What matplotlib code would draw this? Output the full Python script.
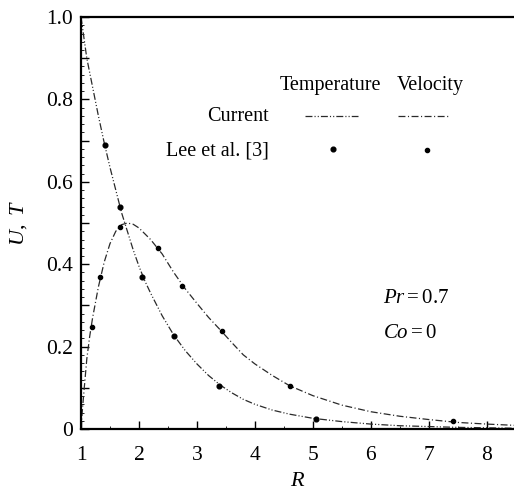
import matplotlib
matplotlib.use("Agg")
import matplotlib.pyplot as plt
from matplotlib.ticker import MultipleLocator, FuncFormatter
from matplotlib.lines import Line2D

plt.rcParams['font.family'] = ['Liberation Serif', 'DejaVu Serif']
plt.rcParams['mathtext.fontset'] = 'custom'
plt.rcParams['mathtext.rm'] = 'Liberation Serif'
plt.rcParams['mathtext.it'] = 'Liberation Serif:italic'
plt.rcParams['lines.scale_dashes'] = False

# ---- data ----
temp_R = [1.0, 1.1, 1.2, 1.3, 1.4, 1.5, 1.6, 1.7, 1.8, 1.9, 2.0, 2.1, 2.2, 2.4, 2.6,
          2.8, 3.0, 3.2, 3.4, 3.6, 3.8, 4.0, 4.3, 4.6, 5.0, 5.5, 6.0, 6.5, 7.0, 7.5,
          8.0, 8.47]
temp_T = [1.0, 0.9, 0.83, 0.76, 0.695, 0.635, 0.58, 0.525, 0.48, 0.435, 0.395, 0.36,
          0.33, 0.275, 0.228, 0.19, 0.158, 0.13, 0.107, 0.088, 0.072, 0.06, 0.046,
          0.036, 0.026, 0.018, 0.012, 0.008, 0.006, 0.004, 0.003, 0.002]

vel_R = [1.0, 1.02, 1.05, 1.1, 1.15, 1.2, 1.3, 1.4, 1.5, 1.6, 1.7, 1.8, 1.9, 2.0, 2.2,
         2.4, 2.6, 2.8, 3.0, 3.2, 3.4, 3.6, 3.8, 4.0, 4.3, 4.6, 5.0, 5.5, 6.0, 6.5,
         7.0, 7.5, 8.0, 8.47]
vel_U = [0.0, 0.04, 0.09, 0.17, 0.225, 0.27, 0.345, 0.405, 0.45, 0.48, 0.496, 0.5,
         0.497, 0.488, 0.46, 0.425, 0.38, 0.34, 0.305, 0.271, 0.241, 0.21, 0.18,
         0.158, 0.13, 0.105, 0.081, 0.058, 0.042, 0.031, 0.023, 0.016, 0.012, 0.009]

lee_temp_R = [1.41, 1.68, 2.06, 2.6, 3.38, 5.05]
lee_temp_T = [0.69, 0.54, 0.37, 0.225, 0.104, 0.024]

lee_vel_R = [1.19, 1.33, 1.67, 2.32, 2.74, 3.44, 4.6, 7.41]
lee_vel_U = [0.247, 0.368, 0.49, 0.44, 0.346, 0.237, 0.104, 0.019]

x_ticks = [1, 2, 3, 4, 5, 6, 7, 8]
y_labels = {0.0: '0', 0.2: '0.2', 0.4: '0.4', 0.6: '0.6', 0.8: '0.8', 1.0: '1.0'}

# ---- styles ----
temp_dash = (0, (5, 1.5, 0.8, 1.5, 0.8, 1.5))
vel_dash = (0, (5, 1.8, 0.8, 1.8))
line_color = '#2a2a2a'

fig = plt.figure(figsize=(5.14, 4.92), dpi=100)
ax = fig.add_axes([0.1576, 0.128, 0.8424, 0.8374])

ax.plot(temp_R, temp_T, color=line_color, lw=0.9, linestyle=temp_dash)
ax.plot(vel_R, vel_U, color=line_color, lw=0.9, linestyle=vel_dash)
ax.plot(lee_temp_R, lee_temp_T, 'o', color='black', ms=3.4, mec='black')
ax.plot(lee_vel_R, lee_vel_U, 'o', color='black', ms=3.0, mec='black')

ax.set_xlim(1, 8.47)
ax.set_ylim(0, 1.0)

ax.set_xticks(x_ticks)
ax.xaxis.set_minor_locator(MultipleLocator(0.5))
ax.yaxis.set_major_locator(MultipleLocator(0.1))
ax.yaxis.set_minor_locator(MultipleLocator(0.02))


def yfmt(v, pos):
    for k, s in y_labels.items():
        if abs(v - k) < 1e-6:
            return s
    return ''


ax.yaxis.set_major_formatter(FuncFormatter(yfmt))

ax.tick_params(which='major', direction='in', length=6, width=1.0,
               labelsize=15.5, top=False, right=False)
ax.tick_params(axis='x', which='major', pad=12)
ax.tick_params(axis='y', which='major', pad=6)
ax.tick_params(which='minor', direction='in', length=2.5, width=0.6,
               top=False, right=False)

for s in ['left', 'bottom', 'top']:
    ax.spines[s].set_linewidth(1.6)
ax.spines['right'].set_visible(False)

ax.set_xlabel('$R$', fontsize=16, labelpad=5)
ax.set_ylabel('$U,\\ T$', fontsize=16, labelpad=12)

# ---- legend (table layout) ----
tr = ax.transAxes
fs_leg = 14.5
ax.text(0.577, 0.833, 'Temperature', transform=tr, ha='center', va='center', fontsize=fs_leg)
ax.text(0.806, 0.833, 'Velocity', transform=tr, ha='center', va='center', fontsize=fs_leg)
ax.text(0.434, 0.759, 'Current', transform=tr, ha='right', va='center', fontsize=fs_leg)
ax.text(0.434, 0.675, 'Lee et al. [3]', transform=tr, ha='right', va='center', fontsize=fs_leg)
ax.add_line(Line2D([0.517, 0.640], [0.760, 0.760], transform=tr, color=line_color,
                   lw=0.9, linestyle=temp_dash))
ax.add_line(Line2D([0.732, 0.852], [0.760, 0.760], transform=tr, color=line_color,
                   lw=0.9, linestyle=vel_dash))
ax.add_line(Line2D([0.582], [0.680], transform=tr, marker='o', color='black',
                   ms=3.4, linestyle='none'))
ax.add_line(Line2D([0.799], [0.677], transform=tr, marker='o', color='black',
                   ms=3.0, linestyle='none'))

ax.text(0.697, 0.316, '$Pr = 0.7$', transform=tr, ha='left', va='center', fontsize=15)
ax.text(0.697, 0.231, '$Co = 0$', transform=tr, ha='left', va='center', fontsize=15)

fig.savefig('out.png', dpi=100)
